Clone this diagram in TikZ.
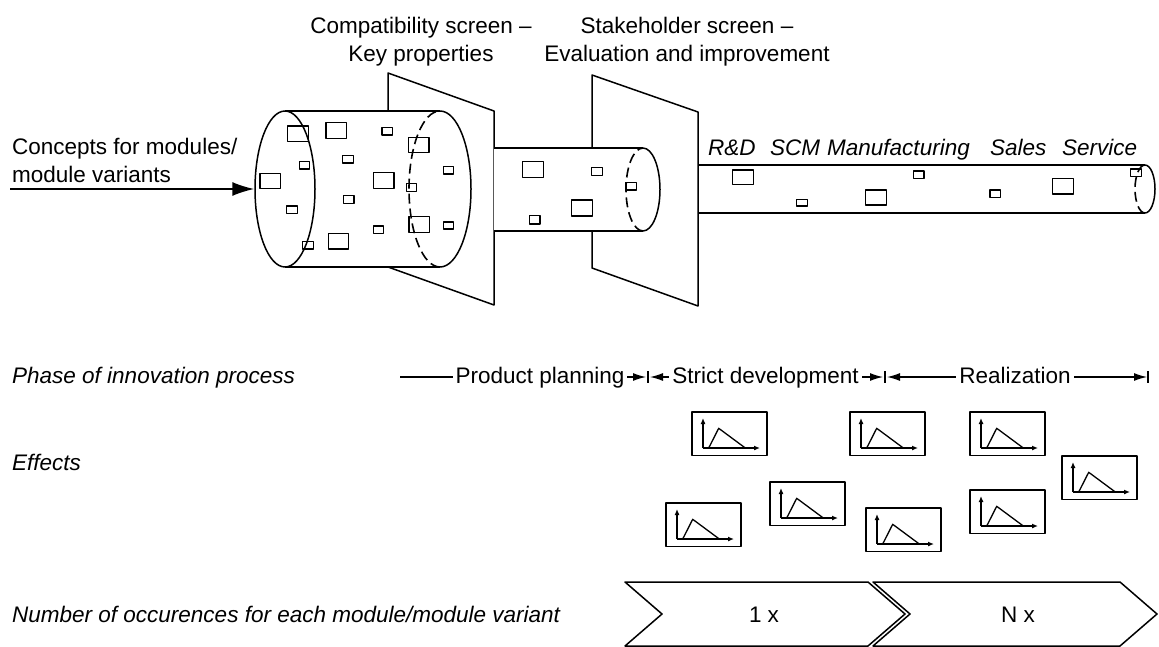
\documentclass[tikz,border=0pt]{standalone}
\usepackage{fontspec}
\setmainfont{Liberation Sans}
\usetikzlibrary{arrows.meta,shapes.geometric}

\begin{document}
\begin{tikzpicture}[x=1pt, y=-1pt, line join=round,
    txt/.style={font=\fontsize{22.5}{27}\selectfont, inner sep=0pt},
    itxt/.style={font=\fontsize{22.5}{27}\selectfont\itshape, inner sep=0pt},
    outline/.style={line width=1.5pt},
    hiddenline/.style={line width=1.6pt, dash pattern=on 10pt off 5pt},
    screenface/.style={line width=1.5pt, fill=white},
    modbox/.style={line width=1.3pt},
    phaseline/.style={line width=1.2pt},
    phasetip/.style={-{Latex[length=13pt,width=8pt]}},
    effectplot/.pic={
        \draw[line width=1.3pt] (0,0) rectangle (75,43.5);
        \draw[line width=1.3pt, -{Latex[length=6pt,width=5pt]}] (11,36) -- (11,6);
        \draw[line width=1.3pt, -{Latex[length=6pt,width=5pt]}] (11,36) -- (68,36);
        \draw[line width=1.3pt] (16.7,36) -- (26.7,16.3) -- (53.3,36);
    }]
    \useasboundingbox (0,0) rectangle (1159,647);

    % headings above the screens
    \node[txt, anchor=base] (compat1) at (421,34) {Compatibility screen --};
    \node[txt, anchor=base] (compat2) at (421,62) {Key properties};
    \node[txt, anchor=base] (stake1) at (687,34) {Stakeholder screen --};
    \node[txt, anchor=base] (stake2) at (687,62) {Evaluation and improvement};

    % incoming concepts
    \node[txt, anchor=base west] (concept1) at (12,155) {Concepts for modules/};
    \node[txt, anchor=base west] (concept2) at (12,183) {module variants};
    \coordinate (conceptin) at (10,189);

    % compatibility screen
    \draw[screenface] (388,73) -- (494,111) -- (494,305) -- (388,267) -- cycle;

    % big cylinder
    \fill[white] (285,111) rectangle (440,267);
    \fill[white] (440,189) ellipse[x radius=31, y radius=78];
    \draw[outline] (285,111) -- (440,111);
    \draw[outline] (285,267) -- (440,267);
    \node[ellipse, draw, line width=1.5pt, fill=white, minimum width=60pt, minimum height=156pt, inner sep=0pt] (bigin) at (285,189) {};
    \draw[outline] (440,111) arc[start angle=-90, end angle=90, x radius=31, y radius=78];
    \draw[hiddenline] (440,267) arc[start angle=90, end angle=270, x radius=31, y radius=78];
    \draw[outline, -{Latex[length=22pt,width=14pt]}] (conceptin) -- (bigin.west);

    \draw[modbox] (287.3,126) rectangle (308.3,141.7);
    \draw[modbox] (326,122.7) rectangle (346.7,138.3);
    \draw[modbox] (382,127.7) rectangle (392.3,135);
    \draw[modbox] (408.3,137.3) rectangle (429,152.7);
    \draw[modbox] (299.3,161.7) rectangle (309.7,169);
    \draw[modbox] (342.7,155.7) rectangle (353.3,163);
    \draw[modbox] (443.3,166.7) rectangle (453.3,174);
    \draw[modbox] (260,173.3) rectangle (280.7,188.3);
    \draw[modbox] (373.3,172.7) rectangle (394,188.3);
    \draw[modbox] (406.7,183.3) rectangle (416.7,191.3);
    \draw[modbox] (286.7,206) rectangle (297.3,213.3);
    \draw[modbox] (343.3,195.7) rectangle (354,203.3);
    \draw[modbox] (409,216.7) rectangle (429.3,232.3);
    \draw[modbox] (443.3,222) rectangle (453.3,229);
    \draw[modbox] (373.3,226) rectangle (383.3,233.3);
    \draw[modbox] (328.3,233.3) rectangle (348.3,249);
    \draw[modbox] (302.7,241.7) rectangle (313.3,249);

    % stakeholder screen
    \draw[screenface] (592,75) -- (698,112) -- (698,306) -- (592,268) -- cycle;

    % small cylinder
    \fill[white] (494,148) rectangle (643,231);
    \fill[white] (643,189.5) ellipse[x radius=17, y radius=41.5];
    \draw[outline] (494,148) -- (643,148);
    \draw[outline] (494,231) -- (643,231);
    \draw[outline] (643,148) arc[start angle=-90, end angle=90, x radius=17, y radius=41.5];
    \draw[hiddenline] (643,231) arc[start angle=90, end angle=270, x radius=17, y radius=41.5];

    \draw[modbox] (522.7,161.7) rectangle (543.3,177.7);
    \draw[modbox] (591.7,167.7) rectangle (602.3,175.7);
    \draw[modbox] (625.7,182.3) rectangle (636.7,190);
    \draw[modbox] (571.7,200) rectangle (592.3,216);
    \draw[modbox] (529.3,215.7) rectangle (540,224);

    % tube of the departments
    \draw[outline] (698,165) -- (1145,165);
    \draw[outline] (698,213) -- (1145,213);
    \draw[outline] (1145,165) arc[start angle=-90, end angle=90, x radius=10, y radius=24];
    \draw[hiddenline] (1145,213) arc[start angle=90, end angle=270, x radius=10, y radius=24];

    \draw[modbox] (732.3,170) rectangle (753.3,184.3);
    \draw[modbox] (796.7,199.3) rectangle (807.3,206);
    \draw[modbox] (865.7,190) rectangle (886.7,205);
    \draw[modbox] (913.3,171) rectangle (924,178.3);
    \draw[modbox] (990,190) rectangle (1000.7,197.3);
    \draw[modbox] (1052.3,178.3) rectangle (1073.3,194);
    \draw[modbox] (1130.7,169) rectangle (1141.7,176.7);

    \node[itxt, anchor=base west] (rnd) at (708,156) {R\&D};
    \node[itxt, anchor=base west] (scm) at (770,156) {SCM};
    \node[itxt, anchor=base west] (manu) at (827,156) {Manufacturing};
    \node[itxt, anchor=base west] (sales) at (990,156) {Sales};
    \node[itxt, anchor=base west] (service) at (1062,156) {Service};

    % phases
    \node[itxt, anchor=base west] (phaselbl) at (12,383) {Phase of innovation process};
    \coordinate (ph0) at (400,377);
    \coordinate (bar1) at (648,377);
    \coordinate (bar2) at (885,377);
    \coordinate (bar3) at (1148,377);
    \draw[phaseline, phasetip] (ph0) -- ([xshift=-2pt]bar1);
    \draw[phaseline, {Latex[length=13pt,width=8pt]}-{Latex[length=13pt,width=8pt]}] ([xshift=2pt]bar1) -- ([xshift=-2pt]bar2);
    \draw[phaseline, {Latex[length=13pt,width=8pt]}-{Latex[length=13pt,width=8pt]}] ([xshift=2pt]bar2) -- ([xshift=-1pt]bar3);
    \draw[phaseline] ([yshift=6pt]bar1) -- ([yshift=-6pt]bar1);
    \draw[phaseline] ([yshift=6pt]bar2) -- ([yshift=-6pt]bar2);
    \draw[phaseline] ([yshift=6pt]bar3) -- ([yshift=-6pt]bar3);
    \node[txt, fill=white, inner xsep=3pt, anchor=base] (pplan) at (540,383) {Product planning};
    \node[txt, fill=white, inner xsep=3pt, anchor=base] (sdev) at (765.5,383) {Strict development};
    \node[txt, fill=white, inner xsep=3pt, anchor=base] (real) at (1015,383) {Realization};

    % effects
    \node[itxt, anchor=base west] (effectlbl) at (12,470) {Effects};
    \pic at (692,412) {effectplot};
    \pic at (850,412) {effectplot};
    \pic at (970,412) {effectplot};
    \pic at (1062,456) {effectplot};
    \pic at (770,482) {effectplot};
    \pic at (666,503) {effectplot};
    \pic at (866,508) {effectplot};
    \pic at (970,490) {effectplot};

    % occurences
    \node[itxt, anchor=base west] (numlbl) at (12,622) {Number of occurences for each module/module variant};
    \draw[outline] (625,582) -- (868,582) -- (905,614) -- (868,646) -- (625,646) -- (662,614) -- cycle;
    \draw[outline] (873,582) -- (1120,582) -- (1157,614) -- (1120,646) -- (873,646) -- (910,614) -- cycle;
    \node[txt, anchor=base] (once) at (764,622) {1 x};
    \node[txt, anchor=base] (ntimes) at (1018,622) {N x};
\end{tikzpicture}
\end{document}
